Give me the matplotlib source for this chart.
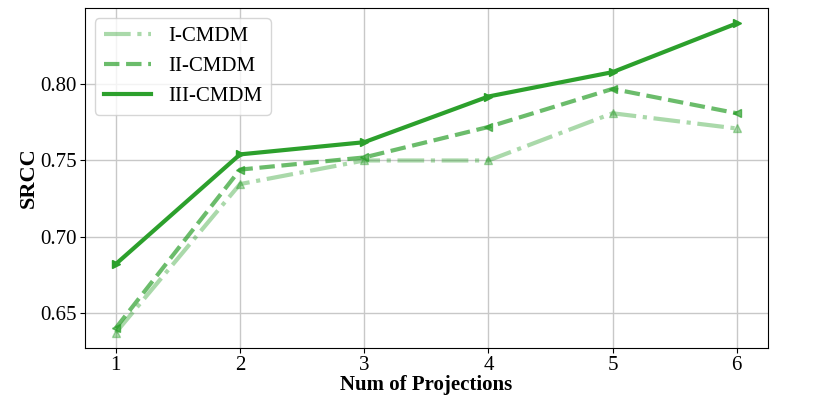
import matplotlib
matplotlib.use('Agg')
import matplotlib.pyplot as plt

plt.rcParams['font.family'] = ['Liberation Serif', 'DejaVu Serif']

projections = [1, 2, 3, 4, 5, 6]
srcc_I = [0.637, 0.7345, 0.750, 0.750, 0.781, 0.771]
srcc_II = [0.640, 0.744, 0.752, 0.772, 0.797, 0.781]
srcc_III = [0.682, 0.754, 0.762, 0.792, 0.808, 0.840]

green = '#2ca02c'

fig = plt.figure(figsize=(8.31, 3.96), dpi=100)
ax = fig.add_axes([0.102, 0.121, 0.822, 0.859])

# lines (legend) and markers drawn separately
ax.plot(projections, srcc_I, color=green, alpha=0.4, linestyle='-.', linewidth=3, label='I-CMDM')
ax.plot(projections, srcc_II, color=green, alpha=0.7, linestyle='--', linewidth=3, label='II-CMDM')
ax.plot(projections, srcc_III, color=green, linestyle='-', linewidth=3, label='III-CMDM')
ax.plot(projections, srcc_I, color=green, alpha=0.4, linestyle='none', marker='^', markersize=6)
ax.plot(projections, srcc_II, color=green, alpha=0.7, linestyle='none', marker='<', markersize=6)
ax.plot(projections, srcc_III, color=green, linestyle='none', marker='>', markersize=6)

ax.grid(True, color='#c8c8c8', linewidth=1)
ax.set_axisbelow(True)
ax.set_xticks(projections)
ax.set_yticks([0.65, 0.70, 0.75, 0.80])
ax.tick_params(labelsize=15, pad=2)
ax.set_xlabel('Num of Projections', fontsize=15, fontweight='bold', labelpad=0)
ax.set_ylabel('SRCC', fontsize=16, fontweight='bold', labelpad=1)
ax.legend(loc='upper left', fontsize=15, handlelength=2.3, framealpha=0.8)

fig.savefig('out.png', dpi=100)
